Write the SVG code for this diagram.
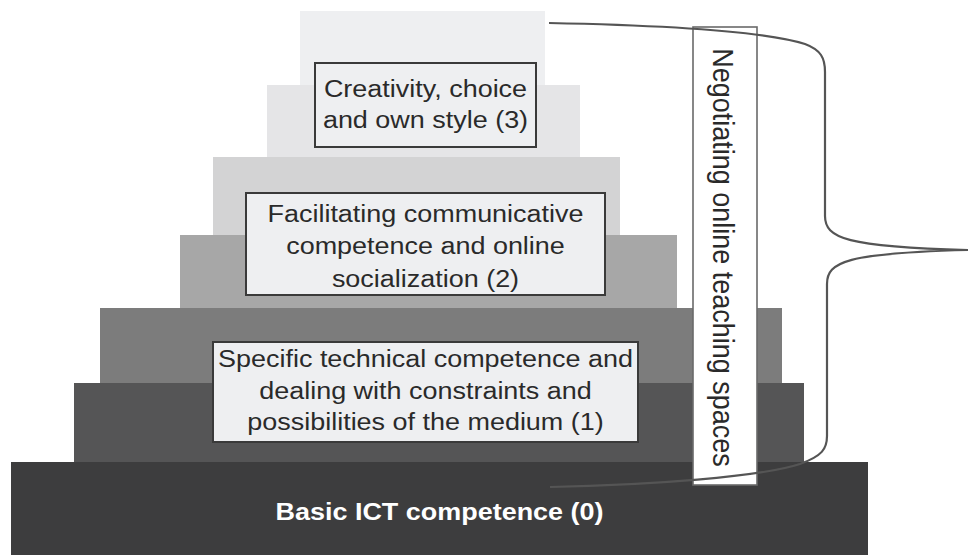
<svg xmlns="http://www.w3.org/2000/svg" width="968" height="555" viewBox="0 0 968 555">
  <style>
    .lbl { font-family: "Liberation Sans", Arial, Helvetica, sans-serif; font-size: 24.5px; fill: #2a2a2a; text-anchor: middle; }
    .base { font-family: "Liberation Sans", Arial, Helvetica, sans-serif; font-size: 24.5px; font-weight: bold; fill: #ffffff; text-anchor: middle; }
    .box { fill: #eeeff1; stroke: #3a3a3a; stroke-width: 2; }
    .vbox { fill: #ffffff; stroke: #6a6a6a; stroke-width: 1.6; }
    .brace { fill: none; stroke: #555555; stroke-width: 2.2; }
  </style>
  <rect width="968" height="555" fill="#ffffff"/>

  <g id="steps">
    <rect x="300" y="11" width="245" height="75" fill="#eeeff1"/>
    <rect x="267" y="85" width="313" height="73" fill="#e5e5e7"/>
    <rect x="213" y="157" width="407" height="79" fill="#d3d3d4"/>
    <rect x="180" y="235" width="497" height="74" fill="#a7a7a7"/>
    <rect x="100" y="308" width="682" height="76" fill="#7c7c7c"/>
    <rect x="74" y="383" width="730" height="80" fill="#555556"/>
  </g>

  <g id="node0">
    <rect x="11" y="462" width="857" height="93" fill="#3d3d3e"/>
    <text class="base" transform="translate(439.5,520) scale(1.1,1)" x="0" y="0">Basic ICT competence (0)</text>
  </g>

  <g id="node1">
    <rect class="box" x="213" y="342" width="425" height="100"/>
    <g transform="translate(425.5,0) scale(1.1,1)">
      <text class="lbl" x="0" y="367">Specific technical competence and</text>
      <text class="lbl" x="0" y="399">dealing with constraints and</text>
      <text class="lbl" x="0" y="430">possibilities of the medium (1)</text>
    </g>
  </g>

  <g id="node2">
    <rect class="box" x="246" y="193" width="359" height="102"/>
    <g transform="translate(425.5,0) scale(1.1,1)">
      <text class="lbl" x="0" y="222">Facilitating communicative</text>
      <text class="lbl" x="0" y="254.5">competence and online</text>
      <text class="lbl" x="0" y="287">socialization (2)</text>
    </g>
  </g>

  <g id="node3">
    <rect class="box" x="315" y="63" width="221" height="84"/>
    <g transform="translate(425.5,0) scale(1.1,1)">
      <text class="lbl" x="0" y="97">Creativity, choice</text>
      <text class="lbl" x="0" y="128">and own style (3)</text>
    </g>
  </g>

  <g id="negotiating">
    <rect class="vbox" x="693" y="27" width="64" height="458"/>
    <text class="lbl" transform="translate(713,257.5) scale(1.1,1) rotate(90)" x="0" y="0" style="font-size:27px">Negotiating online teaching spaces</text>
  </g>

  <g id="connectors">
    <path class="brace" d="M549,23 C650,25 760,30 805,44 C821,50 825,58 825,72 L825,216 C825,238 846,247 968,250 C846,253 827,262 827,284 L827,436 C827,449 822,456 800,464 C760,477 650,485 550,487"/>
  </g>
</svg>
